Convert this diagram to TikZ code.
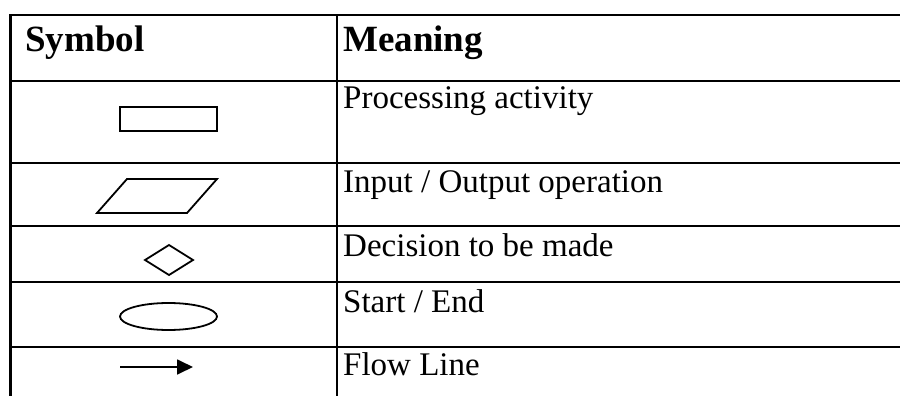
\documentclass[tikz,border=0pt]{standalone}
\usepackage{fontspec}
\setmainfont{Liberation Serif}
\usetikzlibrary{arrows.meta,shapes.geometric}

\tikzset{
  grid line/.style={line width=2.2pt, line cap=rect},
  symbol shape/.style={draw, line width=1.8pt, inner sep=0pt},
  head text/.style={anchor=base west, inner sep=0pt, font=\bfseries\fontsize{37}{44}\selectfont},
  body text/.style={anchor=base west, inner sep=0pt, font=\fontsize{33}{40}\selectfont},
  flow/.style={line width=1.8pt, -{Triangle[length=16pt,width=15pt]}}
}

\begin{document}
\begin{tikzpicture}[x=1pt, y=-1pt]
  \useasboundingbox (0,0) rectangle (900,396);

  % table rules
  \foreach \yy in {15,81,163,226,282,347}
    \draw[grid line] (10,\yy) -- (905,\yy);
  \draw[grid line] (10.5,15) -- (10.5,400);
  \draw[grid line] (337,15) -- (337,400);

  % header
  \node[head text] (hsym) at (25,52) {Symbol};
  \node[head text] (hmean) at (343,52) {Meaning};

  % process box
  \node[symbol shape, rectangle, minimum width=97pt, minimum height=24pt] (proc) at (168.5,119) {};
  \node[body text] (tproc) at (343,108) {Processing activity};

  % input / output parallelogram
  \draw[symbol shape, line join=miter] (97,213) -- (187,213) -- (217,179) -- (127,179) -- cycle;
  \node (io) at (157,196) {};
  \node[body text] (tio) at (343,192) {Input / Output operation};

  % decision diamond
  \draw[symbol shape, line join=miter] (169,245) -- (193,260) -- (169,275) -- (145,260) -- cycle;
  \node (dec) at (169,260) {};
  \node[body text] (tdec) at (343,256) {Decision to be made};

  % terminator
  \node[symbol shape, ellipse, minimum width=97pt, minimum height=27pt] (term) at (168.5,316.5) {};
  \node[body text] (tterm) at (343,312) {Start / End};

  % flow line
  \coordinate (fa) at (120,367);
  \coordinate (fb) at (193,367);
  \draw[flow] (fa) -- (fb);
  \node[body text] (tflow) at (343,375) {Flow Line};
\end{tikzpicture}
\end{document}
